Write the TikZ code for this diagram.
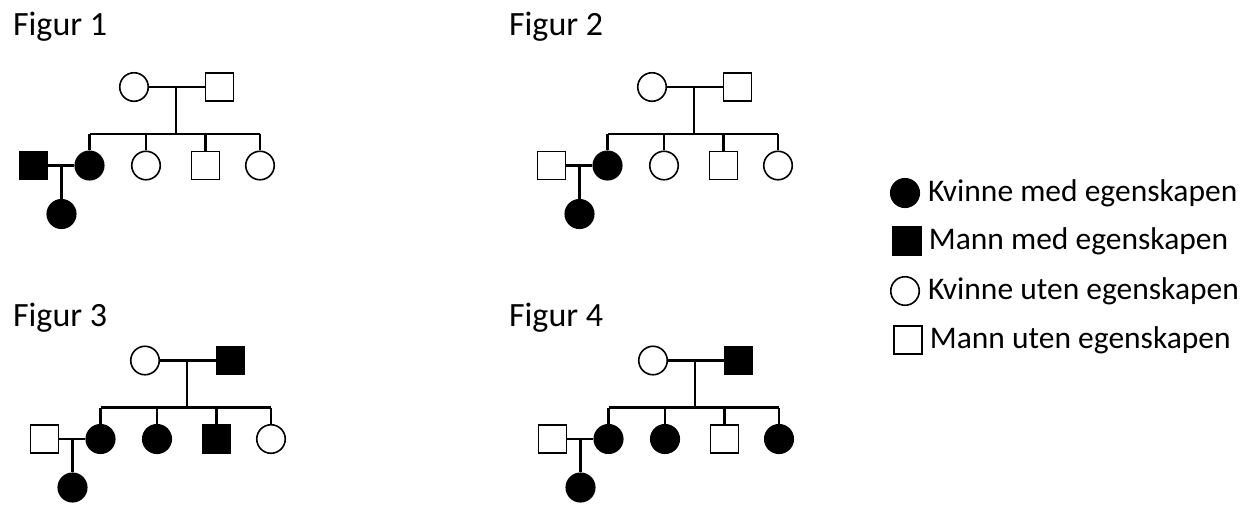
\documentclass[tikz,border=0pt]{standalone}
\usepackage{fontspec}
\setmainfont{Carlito}
\usetikzlibrary{positioning}
\usetikzlibrary{calc}
\tikzset{female/.style = {draw, circle, inner sep = 0, minimum size = 28.5pt, line width = 1.6pt}}
\tikzset{male/.style = {draw, rectangle, inner sep = 0, minimum size = 28pt, line width = 1.6pt}}
\tikzset{aff/.style = {fill = black}}
\tikzset{title/.style = {anchor = base west, inner sep = 0, font = \fontsize{34}{40}\selectfont}}
\tikzset{legend/.style = {inner sep = 0, font = \fontsize{31.5}{38}\selectfont}}

\begin{document}
\begin{tikzpicture}[x = 1pt, y = -1pt, line width = 2.2pt]
      \useasboundingbox (0, 0) rectangle (1255, 515);
      \node [title] (t1) at (12, 35) {Figur 1};
      \node [title] (t2) at (508, 35) {Figur 2};
      \node [title] (t3) at (12, 326) {Figur 3};
      \node [title] (t4) at (508, 326) {Figur 4};
      % Figur 1
      \begin{scope}[shift = {(176, 87)}]
        \node [female] (m1) at (-42, 0) {};
        \node [male] (f1) at (43.5, 0) {};
        \node [female, aff] (a1) at (-86.5, 78.5) {};
        \node [female] (b1) at (-30, 78.5) {};
        \node [male] (c1) at (29.5, 78.5) {};
        \node [female] (d1) at (84, 78.5) {};
        \node [male, aff] (p1) at (-142.5, 78.5) {};
        \node [female, aff] (g1) at (-114.5, 127) {};
        \coordinate (u1) at (0, 0);
        \coordinate (s1) at (0, 47);
        \coordinate (v1) at ($(p1)!0.5!(a1)$);
        \draw (m1) -- (f1);
        \draw (u1) -- (s1);
        \draw (a1 |- s1) -- (d1 |- s1);
        \draw (a1 |- s1) -- (a1);
        \draw (b1 |- s1) -- (b1);
        \draw (c1 |- s1) -- (c1);
        \draw (d1 |- s1) -- (d1);
        \draw (p1) -- (a1);
        \draw (v1) -- (g1);
      \end{scope}
      % Figur 2
      \begin{scope}[shift = {(694, 87)}]
        \node [female] (m2) at (-42, 0) {};
        \node [male] (f2) at (43.5, 0) {};
        \node [female, aff] (a2) at (-86.5, 78.5) {};
        \node [female] (b2) at (-30, 78.5) {};
        \node [male] (c2) at (29.5, 78.5) {};
        \node [female] (d2) at (84, 78.5) {};
        \node [male] (p2) at (-142.5, 78.5) {};
        \node [female, aff] (g2) at (-114.5, 127) {};
        \coordinate (u2) at (0, 0);
        \coordinate (s2) at (0, 47);
        \coordinate (v2) at ($(p2)!0.5!(a2)$);
        \draw (m2) -- (f2);
        \draw (u2) -- (s2);
        \draw (a2 |- s2) -- (d2 |- s2);
        \draw (a2 |- s2) -- (a2);
        \draw (b2 |- s2) -- (b2);
        \draw (c2 |- s2) -- (c2);
        \draw (d2 |- s2) -- (d2);
        \draw (p2) -- (a2);
        \draw (v2) -- (g2);
      \end{scope}
      % Figur 3
      \begin{scope}[shift = {(187, 360.5)}]
        \node [female] (m3) at (-42, 0) {};
        \node [male, aff] (f3) at (43.5, 0) {};
        \node [female, aff] (a3) at (-86.5, 78.5) {};
        \node [female, aff] (b3) at (-30, 78.5) {};
        \node [male, aff] (c3) at (29.5, 78.5) {};
        \node [female] (d3) at (84, 78.5) {};
        \node [male] (p3) at (-142.5, 78.5) {};
        \node [female, aff] (g3) at (-114.5, 127) {};
        \coordinate (u3) at (0, 0);
        \coordinate (s3) at (0, 47);
        \coordinate (v3) at ($(p3)!0.5!(a3)$);
        \draw (m3) -- (f3);
        \draw (u3) -- (s3);
        \draw (a3 |- s3) -- (d3 |- s3);
        \draw (a3 |- s3) -- (a3);
        \draw (b3 |- s3) -- (b3);
        \draw (c3 |- s3) -- (c3);
        \draw (d3 |- s3) -- (d3);
        \draw (p3) -- (a3);
        \draw (v3) -- (g3);
      \end{scope}
      % Figur 4
      \begin{scope}[shift = {(695, 360.5)}]
        \node [female] (m4) at (-42, 0) {};
        \node [male, aff] (f4) at (43.5, 0) {};
        \node [female, aff] (a4) at (-86.5, 78.5) {};
        \node [female, aff] (b4) at (-30, 78.5) {};
        \node [male] (c4) at (29.5, 78.5) {};
        \node [female, aff] (d4) at (84, 78.5) {};
        \node [male] (p4) at (-142.5, 78.5) {};
        \node [female, aff] (g4) at (-114.5, 127) {};
        \coordinate (u4) at (0, 0);
        \coordinate (s4) at (0, 47);
        \coordinate (v4) at ($(p4)!0.5!(a4)$);
        \draw (m4) -- (f4);
        \draw (u4) -- (s4);
        \draw (a4 |- s4) -- (d4 |- s4);
        \draw (a4 |- s4) -- (a4);
        \draw (b4 |- s4) -- (b4);
        \draw (c4 |- s4) -- (c4);
        \draw (d4 |- s4) -- (d4);
        \draw (p4) -- (a4);
        \draw (v4) -- (g4);
      \end{scope}
      % legend
      \node [female, aff] (lk1) at (905, 193) {};
      \node [legend, right = 7pt of lk1] (tk1) {Kvinne med egenskapen};
      \node [male, aff] (lm1) at (907, 241) {};
      \node [legend, right = 6pt of lm1] (tm1) {Mann med egenskapen};
      \node [female] (lk2) at (905, 291) {};
      \node [legend, right = 7pt of lk2] (tk2) {Kvinne uten egenskapen};
      \node [male] (lm2) at (908, 340) {};
      \node [legend, right = 6pt of lm2] (tm2) {Mann uten egenskapen};
\end{tikzpicture}
\end{document}
